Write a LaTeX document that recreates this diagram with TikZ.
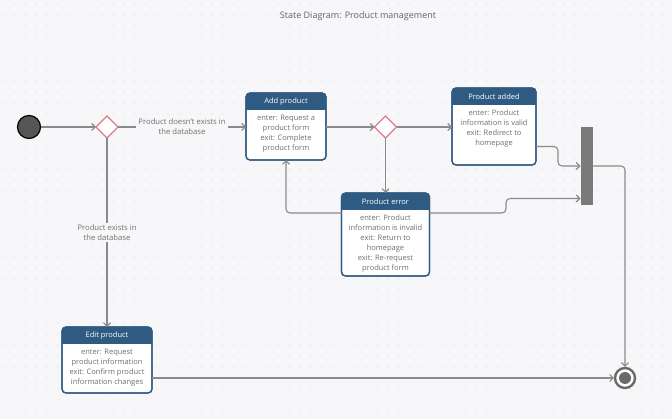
\documentclass[tikz,border=0pt]{standalone}
\usepackage{fontspec}
\setmainfont{Open Sans}
\usetikzlibrary{shapes.geometric,arrows.meta,calc}
\definecolor{bgc}{HTML}{F7F7F9}
\definecolor{dotc}{HTML}{D6D6DC}
\definecolor{hdr}{HTML}{2F5A82}
\definecolor{txtc}{HTML}{707070}
\definecolor{linec}{HTML}{8A8A8A}
\definecolor{barc}{HTML}{7A7A7A}
\definecolor{diac}{HTML}{E07B84}
\definecolor{startc}{HTML}{555555}
\definecolor{finc}{HTML}{6A6A6A}
\newcommand\mkheader[2]{%
  \begin{scope}
    \clip[rounded corners=4pt] (#1.north west) rectangle (#1.south east);
    \fill[hdr] (#1.north west) rectangle ([yshift=-17pt]#1.north east);
  \end{scope}
  \draw[hdr, line width=1.2pt, rounded corners=4pt] (#1.north west) rectangle (#1.south east);
  \node[hdrtxt] (#1-t) at ([yshift=-8.5pt]#1.north) {#2};
}
\tikzset{
  statebox/.style={draw=hdr, line width=1.2pt, rounded corners=4pt, fill=white, inner sep=0pt, outer sep=0pt, rectangle},
  hdrtxt/.style={text=white, font=\fontsize{7.5}{9}\selectfont, inner sep=0pt},
  bodytxt/.style={text=txtc, font=\fontsize{7.5}{10}\selectfont, align=center, inner sep=0pt, anchor=north},
  lbl/.style={text=txtc, font=\fontsize{7.7}{10}\selectfont, align=center, fill=bgc, inner sep=2pt},
  conn/.style={draw=linec, line width=1.1pt, -{Straight Barb[length=3.5pt,width=7pt]}},
  decision/.style={diamond, aspect=1, draw=diac, line width=1.1pt, fill=white, minimum size=22pt, inner sep=0pt, outer sep=0pt},
}
\begin{document}
\begin{tikzpicture}[x=1pt,y=-1pt]
\fill[bgc] (0,0) rectangle (672,419);
\useasboundingbox (0,0) rectangle (672,419);
\fill[dotc] \foreach \i in {0,...,61} { \foreach \j in {0,...,38} { ({\i*11+3},{\j*11+4}) circle (0.6pt) } };

\node[text=txtc!90!black, font=\fontsize{9}{11}\selectfont] (title) at (358,16) {State Diagram: Product management};

% start and decisions
\node[circle, fill=startc, draw=black, line width=1.2pt, minimum size=23pt, inner sep=0pt] (start) at (29,127) {};
\node[decision] (d1) at (107,127) {};
\node[decision] (d2) at (385.5,127) {};

% states
\node[statebox, minimum width=80pt, minimum height=67pt] (add) at (286,126.5) {};
\mkheader{add}{Add product}
\node[bodytxt] (add-b) at ([yshift=-22pt]add.north) {enter: Request a\\product form\\exit: Complete\\product form};

\node[statebox, minimum width=84pt, minimum height=77pt] (added) at (494,126.5) {};
\mkheader{added}{Product added}
\node[bodytxt] (added-b) at ([yshift=-22pt]added.north) {enter: Product\\information is valid\\exit: Redirect to\\homepage};

\node[statebox, minimum width=88pt, minimum height=83pt] (err) at (385.5,234.5) {};
\mkheader{err}{Product error}
\node[bodytxt] (err-b) at ([yshift=-22pt]err.north) {enter: Product\\information is invalid\\exit: Return to\\homepage\\exit: Re-request\\product form};

\node[statebox, minimum width=90pt, minimum height=66pt] (edit) at (107,360) {};
\mkheader{edit}{Edit product}
\node[bodytxt] (edit-b) at ([yshift=-22pt]edit.north) {enter: Request\\product information\\exit: Confirm product\\information changes};

% fork bar and final
\node[rectangle, fill=barc, minimum width=12pt, minimum height=78pt, inner sep=0pt, outer sep=0pt] (bar) at (586.5,166) {};
\node[circle, draw=finc, line width=2.4pt, fill=white, minimum size=20pt, inner sep=0pt] (fin) at (625,378) {};
\fill[finc] (fin.center) circle (6pt);

% connectors
\draw[conn] (start) -- (d1.west);
\draw[conn] (d1.east) -- (d1.east -| add.west) node[lbl, pos=0.5] (l1) {Product doesn’t exists in\\the database};
\draw[conn] (d1.south) -- (d1.south |- edit.north) node[lbl, pos=0.5] (l2) {Product exists in\\the database};
\draw[conn] (add.east |- d2.west) -- (d2.west);
\draw[conn] (d2.east) -- (d2.east -| added.west);
\draw[conn] (d2.south) -- (d2.south |- err.north);
\draw[conn, rounded corners=4pt] (err.west |- 0,213) -| (add.south);
\draw[conn, rounded corners=4pt] (err.east |- 0,213) -- (506,213) -- (506,198.5) -- (bar.west |- 0,198.5);
\draw[conn, rounded corners=4pt] (added.east |- 0,146.5) -- (558,146.5) -- (558,166) -- (bar.west |- 0,166);
\draw[conn, rounded corners=4pt] (bar.east |- 0,166) -| (fin.north);
\draw[conn] (edit.east |- fin.west) -- (fin.west);
\end{tikzpicture}
\end{document}
